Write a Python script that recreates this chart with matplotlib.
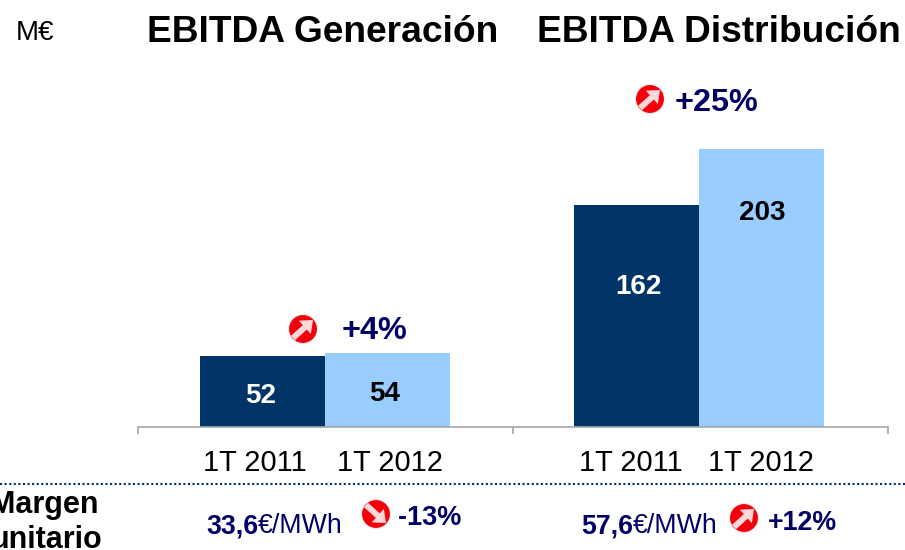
import matplotlib
matplotlib.use('Agg')
import matplotlib.pyplot as plt
from matplotlib.patches import Circle, FancyArrow

plt.rcParams['font.family'] = ['Liberation Sans', 'DejaVu Sans']

groups = ['EBITDA Generación', 'EBITDA Distribución']
periods = ['1T 2011', '1T 2012']
values_2011 = [52, 162]
values_2012 = [54, 203]
growth = ['+4%', '+25%']
margin_values = ['33,6', '57,6']
margin_growth = ['-13%', '+12%']

navy = '#000066'
dark = '#003366'
light = '#99CCFF'
W, H = 905, 550

fig = plt.figure(figsize=(W / 100, H / 100), dpi=100)

# bar area, sized so that the baseline sits on pixel row 427
ax = fig.add_axes([138 / W, (H - 427) / H, 750 / W, 427 / H])
ax.set_xlim(0, 2)
ax.set_ylim(0, 427 / 1.37)
bw = 1 / 3
group_centers = [0.4985, 1.495]
for i in range(len(groups)):
    c = group_centers[i]
    ax.bar(c - bw / 2, values_2011[i], bw, color=dark)
    ax.bar(c + bw / 2, values_2012[i], bw, color=light)
for s in ['top', 'left', 'right']:
    ax.spines[s].set_visible(False)
ax.spines['bottom'].set_color('#A6A6A6')
ax.spines['bottom'].set_linewidth(1.2)
ax.set_xticks([0, 1, 2])
ax.set_xticklabels([])
ax.tick_params(axis='x', length=5, width=1.2, color='#A6A6A6')
ax.set_yticks([])

# overlay in pixel coords for all the text and icons
ov = fig.add_axes([0, 0, 1, 1])
ov.set_xlim(0, W)
ov.set_ylim(H, 0)
ov.axis('off')
ov.patch.set_alpha(0)


def icon(x, y, up=True):
    ov.add_patch(Circle((x, y), 14.5, fc='#F4000A', ec='#EDEDED', lw=0.8))
    d = -1 if up else 1
    ov.add_patch(FancyArrow(x - 10, y - d * 9, 20, d * 18,
                            width=6, head_width=18, head_length=11,
                            length_includes_head=True, fc='#FFD8D8', ec='none'))


ov.text(35, 33, 'M€', fontsize=20, ha='center', va='center', color='black')
ov.text(323, 33, groups[0], fontsize=26.7, fontweight='bold', ha='center', va='center')
ov.text(719, 33, groups[1], fontsize=26.7, fontweight='bold', ha='center', va='center')

icon(303, 329)
ov.text(374, 331, growth[0], fontsize=23.3, fontweight='bold', color=navy, ha='center', va='center')
icon(650, 99)
ov.text(716, 103, growth[1], fontsize=23.3, fontweight='bold', color=navy, ha='center', va='center')

label_kw = dict(fontsize=20, fontweight='bold', ha='center', va='center')
ov.text(261, 396, str(values_2011[0]), color='white', **label_kw)
ov.text(385, 394, str(values_2012[0]), color='black', **label_kw)
ov.text(638, 287, str(values_2011[1]), color='white', **label_kw)
ov.text(762, 213, str(values_2012[1]), color='black', **label_kw)

for x, p in zip([255, 390, 631, 761], periods * 2):
    ov.text(x, 463, p, fontsize=20.9, ha='center', va='center', color='black')

ov.plot([0, W], [484, 484], color=dark, lw=1.5, linestyle=(0, (1, 1.2)))

ov.text(44, 505, 'Margen', fontsize=22, fontweight='bold', ha='center', va='center', clip_on=False)
ov.text(46, 540, 'unitario', fontsize=22, fontweight='bold', ha='center', va='center', clip_on=False)

for x, v in zip([258, 633], margin_values):
    ov.text(x, 526, v, fontsize=19.3, fontweight='bold', color=navy, ha='right', va='center')
    ov.text(x, 526, '€/MWh', fontsize=19.3, color=navy, ha='left', va='center')

icon(376, 514, up=False)
ov.text(430, 518, margin_growth[0], fontsize=19.5, fontweight='bold', color=navy, ha='center', va='center')
icon(744, 518)
ov.text(802, 523, margin_growth[1], fontsize=19.3, fontweight='bold', color=navy, ha='center', va='center')

fig.savefig('out.png', dpi=100)
